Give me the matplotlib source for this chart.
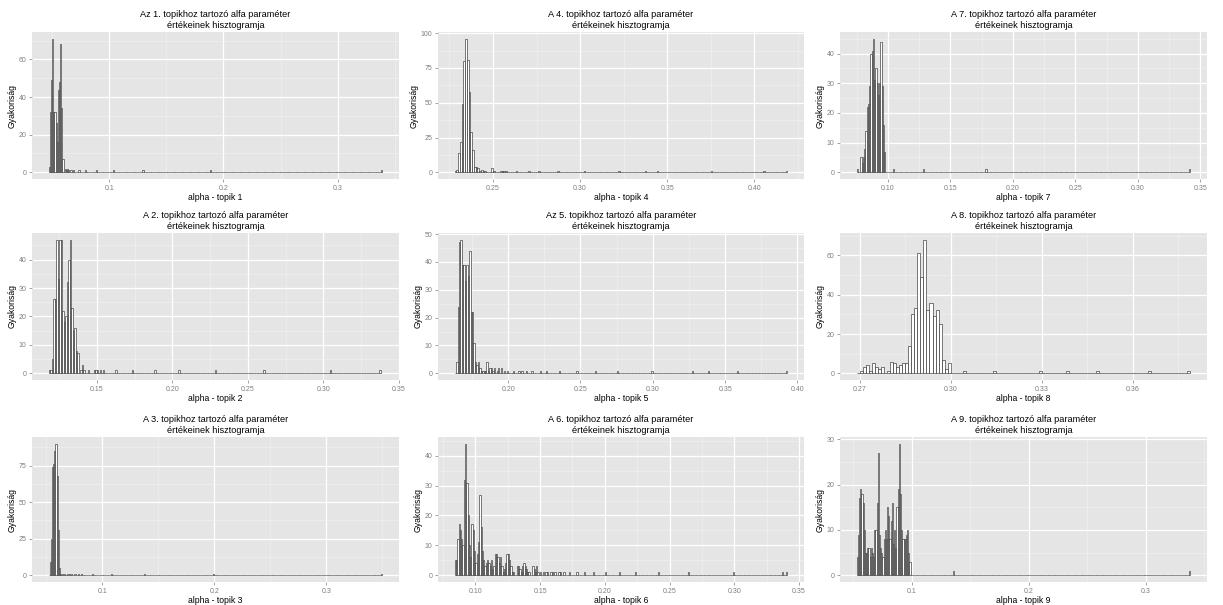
import numpy as np
import matplotlib
matplotlib.use("Agg")
import matplotlib.pyplot as plt

plt.rcParams['font.family'] = ['Liberation Sans', 'DejaVu Sans']

BINW = 0.001

# ---- data: histogram counts (binwidth 0.001), dense part + single observations ----
t1_start = 0.047
t1_counts = [3, 32, 49, 71, 32, 32, 26, 16, 44, 48, 68, 34, 7, 0, 2, 1, 2, 1, 0, 1, 0, 1]
t1_single = [0.073, 0.079, 0.088, 0.103, 0.129, 0.188, 0.3385]

t2_start = 0.118
t2_counts = [1, 1, 5, 26, 26, 47, 33, 47, 47, 22, 18, 20, 32, 40, 47, 23, 15, 16, 8, 7, 0, 1, 3, 1]
t2_single = [0.1445, 0.1485, 0.1495, 0.1505, 0.1525, 0.1545, 0.1625, 0.1735, 0.1885,
             0.2045, 0.2285, 0.2605, 0.3045, 0.3375]

t3_start = 0.052
t3_counts = [0, 9, 25, 74, 76, 85, 90, 68, 31, 5, 1, 0, 1, 0, 1, 0, 1, 0, 1]
t3_single = [0.0725, 0.0755, 0.0785, 0.0815, 0.0915, 0.1085, 0.1375, 0.1995, 0.3495]

t4_start = 0.228
t4_counts = [1, 2, 14, 22, 49, 80, 96, 81, 58, 29, 16, 4, 4, 3, 1, 2, 1, 1, 0, 0, 0, 3, 1]
t4_single = [0.2545, 0.2555, 0.2565, 0.2575, 0.2635, 0.2705, 0.2765, 0.2875, 0.3025,
             0.3225, 0.3375, 0.3445, 0.3755, 0.4055, 0.4185]

t5_start = 0.163
t5_counts = [0, 4, 24, 47, 48, 39, 39, 33, 39, 35, 44, 22, 22, 11, 4, 3, 4, 2, 1, 1, 1, 1,
             4, 1, 2, 2, 1, 2, 0, 1, 2, 0, 2, 0, 1, 0, 1]
t5_single = [0.2035, 0.2075, 0.2095, 0.2125, 0.2165, 0.2225, 0.2265, 0.2355, 0.2475,
             0.2605, 0.2755, 0.2995, 0.3275, 0.3385, 0.3585, 0.3925]

t6_start = 0.084
t6_counts = [5, 5, 12, 17, 15, 12, 10, 32, 44, 31, 20, 10, 6, 17, 15, 8, 4, 7, 11, 27, 16,
             8, 5, 3, 4, 5, 4, 3, 5, 2, 3, 7, 7, 6, 4, 6, 3, 1, 2, 4, 7, 7, 5, 3, 1, 1, 0,
             0, 3, 3, 2, 1, 3, 4, 3, 2, 1, 1, 0, 0, 3, 2, 1, 3, 1, 0, 1, 0, 1, 0, 1]
t6_single = [0.1555, 0.1585, 0.1595, 0.1615, 0.1645, 0.1655, 0.1685, 0.1725, 0.1785,
             0.1845, 0.1915, 0.2005, 0.2115, 0.2235, 0.2415, 0.2645, 0.2995, 0.3375, 0.3405]

t7_start = 0.075
t7_counts = [1, 0, 0, 5, 3, 5, 8, 14, 22, 23, 29, 40, 41, 45, 31, 35, 30, 26, 30, 44, 29, 16, 7]
t7_single = [0.1045, 0.1285, 0.1785, 0.3415]

t8_start = 0.269
t8_counts = [0, 1, 3, 4, 1, 5, 3, 2, 3, 0, 1, 6, 5, 3, 4, 5, 5, 14, 30, 33, 61, 49, 68, 32,
             36, 29, 32, 25, 7, 2, 5]
t8_single = [0.3045, 0.3145, 0.3295, 0.3385, 0.3485, 0.3655, 0.3785]

t9_start = 0.053
t9_counts = [4, 9, 17, 19, 18, 16, 10, 5, 5, 6, 6, 4, 6, 5, 4, 10, 10, 16, 27, 9, 6, 5, 4,
             8, 10, 8, 15, 13, 8, 12, 16, 7, 10, 6, 15, 19, 29, 18, 10, 8, 8, 8, 9, 10, 5, 3]
t9_single = [0.1355, 0.3375]

titles = ["Az 1. topikhoz tartozó alfa paraméter\nértékeinek hisztogramja",
          "A 2. topikhoz tartozó alfa paraméter\nértékeinek hisztogramja",
          "A 3. topikhoz tartozó alfa paraméter\nértékeinek hisztogramja",
          "A 4. topikhoz tartozó alfa paraméter\nértékeinek hisztogramja",
          "Az 5. topikhoz tartozó alfa paraméter\nértékeinek hisztogramja",
          "A 6. topikhoz tartozó alfa paraméter\nértékeinek hisztogramja",
          "A 7. topikhoz tartozó alfa paraméter\nértékeinek hisztogramja",
          "A 8. topikhoz tartozó alfa paraméter\nértékeinek hisztogramja",
          "A 9. topikhoz tartozó alfa paraméter\nértékeinek hisztogramja"]
xlabels = ["alpha - topik %d" % k for k in range(1, 10)]
ylabel = "Gyakoriság"

xticks = [[0.1, 0.2, 0.3],
          [0.15, 0.20, 0.25, 0.30, 0.35],
          [0.1, 0.2, 0.3],
          [0.25, 0.30, 0.35, 0.40],
          [0.20, 0.25, 0.30, 0.35, 0.40],
          [0.10, 0.15, 0.20, 0.25, 0.30, 0.35],
          [0.10, 0.15, 0.20, 0.25, 0.30, 0.35],
          [0.27, 0.30, 0.33, 0.36],
          [0.1, 0.2, 0.3]]
xticklabels = [["0.1", "0.2", "0.3"],
               ["0.15", "0.20", "0.25", "0.30", "0.35"],
               ["0.1", "0.2", "0.3"],
               ["0.25", "0.30", "0.35", "0.40"],
               ["0.20", "0.25", "0.30", "0.35", "0.40"],
               ["0.10", "0.15", "0.20", "0.25", "0.30", "0.35"],
               ["0.10", "0.15", "0.20", "0.25", "0.30", "0.35"],
               ["0.27", "0.30", "0.33", "0.36"],
               ["0.1", "0.2", "0.3"]]
yticks = [[0, 20, 40, 60],
          [0, 10, 20, 30, 40],
          [0, 25, 50, 75],
          [0, 25, 50, 75, 100],
          [0, 10, 20, 30, 40, 50],
          [0, 10, 20, 30, 40],
          [0, 10, 20, 30, 40],
          [0, 20, 40, 60],
          [0, 10, 20, 30]]

starts = [t1_start, t2_start, t3_start, t4_start, t5_start, t6_start, t7_start, t8_start, t9_start]
dense = [t1_counts, t2_counts, t3_counts, t4_counts, t5_counts, t6_counts, t7_counts, t8_counts, t9_counts]
singles = [t1_single, t2_single, t3_single, t4_single, t5_single, t6_single, t7_single, t8_single, t9_single]


def full_hist(start, counts, single):
    top = max(single) if single else start + len(counts) * BINW
    n = max(len(counts), int(np.floor((top - start) / BINW + 1e-9)) + 1)
    c = np.zeros(n)
    c[:len(counts)] = counts
    for v in single:
        c[int(np.floor((v - start) / BINW + 1e-9))] += 1
    edges = start + BINW * np.arange(n)
    return edges, c


def minor_of(major, lo, hi):
    major = np.asarray(major, dtype=float)
    step = major[1] - major[0]
    cand = np.concatenate([[major[0] - step / 2], major + step / 2])
    return [m for m in cand if lo <= m <= hi]


W, H = 1223, 605
fig = plt.figure(figsize=(W / 100, H / 100), dpi=100)
cols_px = [(32, 399), (438, 804), (840, 1207)]
rows_px = [(32, 179), (233, 380), (437, 582)]

for k in range(9):
    col, row = k // 3, k % 3
    l, r = cols_px[col]
    t, b = rows_px[row]
    ax = fig.add_axes([l / W, 1 - b / H, (r - l) / W, (b - t) / H])
    ax.set_facecolor('#E5E5E5')
    edges, c = full_hist(starts[k], dense[k], singles[k])
    ax.bar(edges, c, width=BINW, align='edge', facecolor='white', edgecolor='#1a1a1a',
           linewidth=0.4, zorder=3)
    x0, x1 = edges[0], edges[-1] + BINW
    dx = (x1 - x0) * 0.05
    ax.set_xlim(x0 - dx, x1 + dx)
    ymax = c.max()
    ax.set_ylim(-0.05 * ymax, 1.05 * ymax)
    ax.set_xticks(xticks[k])
    ax.set_xticklabels(xticklabels[k])
    ax.set_yticks(yticks[k])
    xl = ax.get_xlim()
    yl = ax.get_ylim()
    ax.set_xticks(minor_of(xticks[k], *xl), minor=True)
    ax.set_yticks(minor_of(yticks[k], *yl), minor=True)
    ax.grid(True, which='major', color='white', linewidth=0.9, zorder=0)
    ax.grid(True, which='minor', color='#F2F2F2', linewidth=0.4, zorder=0)
    ax.set_axisbelow(True)
    for s in ax.spines.values():
        s.set_visible(False)
    ax.tick_params(which='major', length=2.5, width=0.5, color='#7F7F7F',
                   labelsize=5, labelcolor='#7F7F7F', pad=1.5)
    ax.tick_params(which='minor', length=0)
    ax.set_title(titles[k], fontsize=6.6, pad=3, linespacing=1.25)
    ax.set_xlabel(xlabels[k], fontsize=6.2, labelpad=1)
    ax.set_ylabel(ylabel, fontsize=6.2, labelpad=1.5)

fig.savefig('out.png', dpi=100)
